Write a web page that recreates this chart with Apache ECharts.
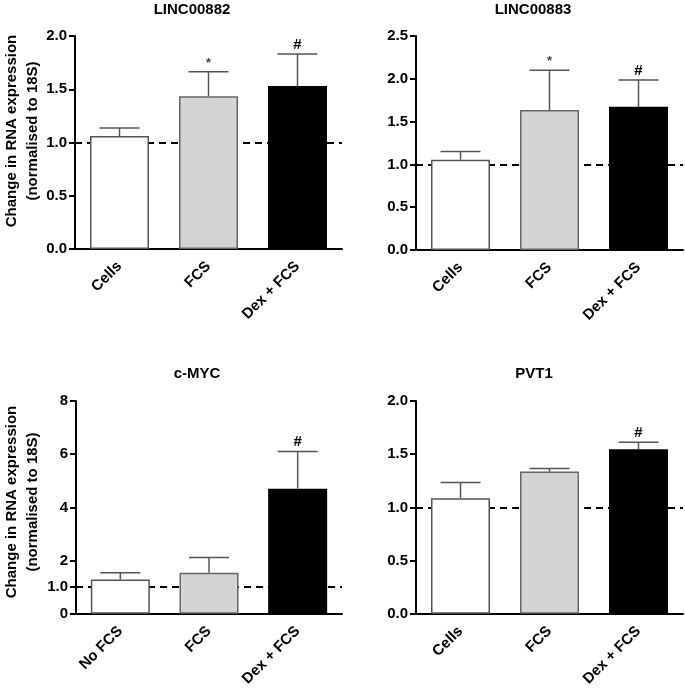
<!DOCTYPE html>
<html>
<head>
<meta charset="utf-8">
<script src="https://cdn.jsdelivr.net/npm/echarts@6/dist/echarts.min.js"></script>
<style>html,body{margin:0;padding:0;background:#fff}#c{width:685px;height:689px}</style>
</head>
<body>
<div id="c"></div>
<script>
// ---- data ----
const categoriesCells = ['Cells', 'FCS', 'Dex + FCS'];
const categoriesMyc = ['No FCS', 'FCS', 'Dex + FCS'];
const panelTitles = ['LINC00882', 'LINC00883', 'c-MYC', 'PVT1'];
const linc882Mean = [1.06, 1.435, 1.53];
const linc882Err = [0.075, 0.23, 0.30];
const linc882Sig = ['', '*', '#'];
const linc883Mean = [1.055, 1.636, 1.674];
const linc883Err = [0.095, 0.464, 0.312];
const linc883Sig = ['', '*', '#'];
const mycMean = [1.29, 1.54, 4.70];
const mycErr = [0.25, 0.58, 1.40];
const mycSig = ['', '', '#'];
const pvt1Mean = [1.087, 1.337, 1.547];
const pvt1Err = [0.147, 0.028, 0.065];
const pvt1Sig = ['', '', '#'];
const baseline = 1.0;
const mycTickValues = [0, 1, 2, 4, 6, 8];
const yAxisTitle = 'Change in RNA expression\n(normalised to 18S)';

// ---- styling ----
const FONT = 'Liberation Sans, Arial, sans-serif';
const barFill = ['#ffffff', '#d4d4d4', '#000000'];
const barBorder = ['#555555', '#666666', '#000000'];

const panels = [
  {cats: categoriesCells, mean: linc882Mean, err: linc882Err, sig: linc882Sig, max: 2, interval: 0.5,
   grid: {left: 75, top: 36, width: 267, height: 213}, title: [192, 2]},
  {cats: categoriesCells, mean: linc883Mean, err: linc883Err, sig: linc883Sig, max: 2.5, interval: 0.5,
   grid: {left: 416, top: 36, width: 267, height: 214}, title: [533, 2]},
  {cats: categoriesMyc, mean: mycMean, err: mycErr, sig: mycSig, max: 8, interval: 1, custom: mycTickValues,
   grid: {left: 76, top: 401, width: 266, height: 213}, title: [197, 366]},
  {cats: categoriesCells, mean: pvt1Mean, err: pvt1Err, sig: pvt1Sig, max: 2, interval: 0.5,
   grid: {left: 416, top: 401, width: 267, height: 213}, title: [534, 366]}
];

const grids = [], xAxes = [], yAxes = [], series = [], titles = [];
panels.forEach((p, i) => {
  grids.push(Object.assign({containLabel: false}, p.grid));
  titles.push({text: panelTitles[i], left: p.title[0], top: p.title[1], textAlign: 'center', padding: 0,
    textStyle: {fontFamily: FONT, fontWeight: 'bold', fontSize: 15, color: '#000'}});
  xAxes.push({
    type: 'category', gridIndex: i, data: p.cats, boundaryGap: true,
    axisLine: {lineStyle: {color: '#000', width: 2}},
    axisTick: {alignWithLabel: true, length: 6, lineStyle: {color: '#000', width: 2}},
    axisLabel: {rotate: 45, margin: 15, color: '#000', fontFamily: FONT, fontWeight: 'bold', fontSize: 15, interval: 0}
  });
  const y = {
    type: 'value', gridIndex: i, min: 0, max: p.max, interval: p.interval,
    splitLine: {show: false},
    axisLine: {show: true, lineStyle: {color: '#000', width: 2}},
    axisTick: {show: true, length: 6, lineStyle: {color: '#000', width: 2}},
    axisLabel: {color: '#000', fontFamily: FONT, fontWeight: 'bold', fontSize: 15, margin: 8,
      formatter: p.custom ? (v => v === 1 ? '1.0' : String(v)) : (v => v.toFixed(1))}
  };
  if (p.custom) {
    y.axisLabel.customValues = p.custom;
    y.axisTick.customValues = p.custom;
  }
  yAxes.push(y);
  // dashed baseline (behind the bars)
  series.push({
    type: 'line', xAxisIndex: i, yAxisIndex: i, data: [], z: 1, silent: true,
    markLine: {z: 1, silent: true, symbol: ['none', 'none'], label: {show: false},
      lineStyle: {type: [7, 5], color: '#000', width: 2}, data: [{yAxis: baseline}]}
  });
  // bars
  series.push({
    type: 'bar', xAxisIndex: i, yAxisIndex: i, barWidth: 59, z: 10, silent: true,
    data: p.mean.map((v, k) => ({value: v, itemStyle: {color: barFill[k], borderColor: barBorder[k], borderWidth: 1.5}}))
  });
  // error bars + significance
  series.push({
    type: 'custom', xAxisIndex: i, yAxisIndex: i, z: 11, silent: true,
    data: p.mean.map((v, k) => [k, v, p.err[k]]),
    renderItem: function (params, api) {
      const k = api.value(0), m = api.value(1), e = api.value(2);
      const sig = p.sig[k];
      const b = api.coord([k, m]);
      const t = api.coord([k, m + e]);
      const half = 20;
      const children = [
        {type: 'line', shape: {x1: b[0], y1: b[1], x2: t[0], y2: t[1]}, style: {stroke: '#555', lineWidth: 1.5}},
        {type: 'line', shape: {x1: t[0] - half, y1: t[1], x2: t[0] + half, y2: t[1]}, style: {stroke: '#555', lineWidth: 1.5}}
      ];
      if (sig) {
        children.push({type: 'text', x: t[0], y: t[1] - 2, style: {
          text: sig, align: 'center', verticalAlign: 'bottom',
          font: sig === '*' ? 'bold 13px ' + FONT : 'bold 15px ' + FONT,
          fill: sig === '*' ? '#444' : '#000'}});
      }
      return {type: 'group', children: children};
    }
  });
});

const graphics = [
  {type: 'text', x: 22, y: 131, rotation: Math.PI / 2, style: {text: yAxisTitle, align: 'center', verticalAlign: 'middle',
    font: 'bold 15px ' + FONT, lineHeight: 21, fill: '#000'}},
  {type: 'text', x: 22, y: 502, rotation: Math.PI / 2, style: {text: yAxisTitle, align: 'center', verticalAlign: 'middle',
    font: 'bold 15px ' + FONT, lineHeight: 21, fill: '#000'}}
];

const chart = echarts.init(document.getElementById('c'), null, {renderer: 'canvas'});
chart.setOption({
  animation: false,
  backgroundColor: '#fff',
  title: titles,
  grid: grids,
  xAxis: xAxes,
  yAxis: yAxes,
  series: series,
  graphic: graphics
});
</script>
</body>
</html>
